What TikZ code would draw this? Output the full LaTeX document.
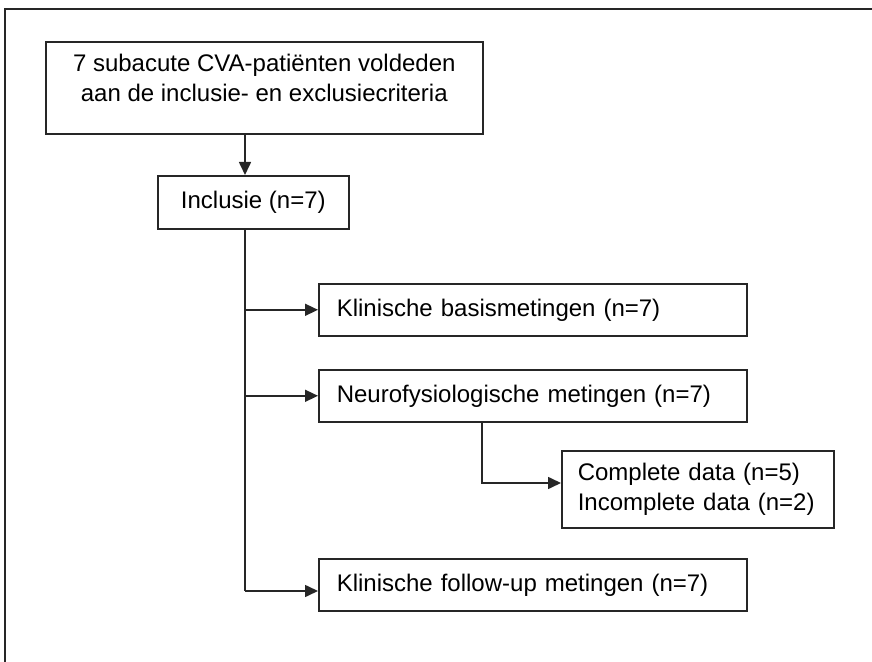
\documentclass[tikz,border=0pt]{standalone}
\usepackage{fontspec}
\setmainfont{Liberation Sans}
\usetikzlibrary{arrows.meta}
\tikzset{
    stage/.style={
        draw=black!85,
        line width=0.8pt,
        rectangle,
        anchor=north west,
        font=\fontsize{12}{15}\selectfont,
    },
    leftstage/.style={
        stage,
        align=left,
        inner xsep=9pt,
        text width=196pt,
        minimum height=26pt,
    },
    flow/.style={
        line width=0.8pt,
        draw=black!85,
        -{Triangle[length=6.5pt,width=6pt]},
    },
}

\begin{document}
\begin{tikzpicture}[x=0.5pt,y=-0.5pt]
   \useasboundingbox (0,0) rectangle (872,662);
   \clip (0,0) rectangle (872,662);
   \draw[line width=1pt, black!85] (5,9) rectangle (900,700);
   \node[stage, align=center, minimum width=218.5pt, minimum height=46pt] (pool) at (45,41) {7 subacute CVA-patiënten voldeden\\aan de inclusie- en exclusiecriteria\\[-5pt]};
   \node[stage, minimum width=95.5pt, minimum height=26.5pt] (incl) at (157,175) {Inclusie (n=7)};
   \node[leftstage] (basis) at (318,283) {Klinische basismetingen (n=7)};
   \node[leftstage] (neuro) at (318,369) {Neurofysiologische metingen (n=7)};
   \node[stage, align=left, inner xsep=8pt, text width=120pt, minimum height=38.5pt] (data) at (561,450) {Complete data (n=5)\\Incomplete data (n=2)};
   \node[leftstage] (follow) at (318,558) {Klinische follow-up metingen (n=7)};
   \coordinate (spine) at (245,591);
   \coordinate (knee) at (482,483);
   \draw[flow] (pool.south -| spine) -- (incl.north -| spine);
   \draw[line width=0.8pt, black!85] (incl.south -| spine) -- (spine);
   \draw[flow] (basis.west -| spine) -- (basis.west);
   \draw[flow] (neuro.west -| spine) -- (neuro.west);
   \draw[flow] (spine) -- (follow.west |- spine);
   \draw[flow] (neuro.south -| knee) -- (knee) -- (data.west |- knee);
\end{tikzpicture}
\end{document}
